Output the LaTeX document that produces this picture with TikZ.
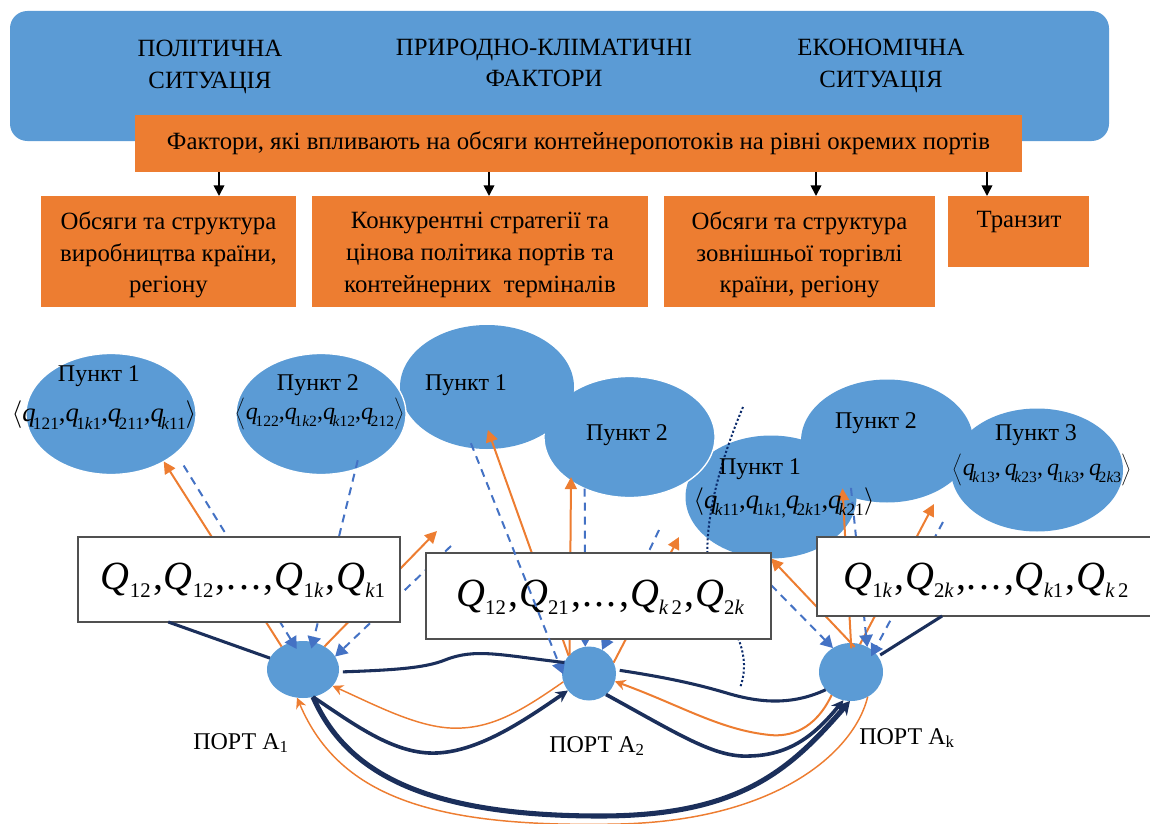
\documentclass[tikz,border=0pt]{standalone}
\usepackage{fontspec}
\setmainfont{Liberation Serif}
\usetikzlibrary{arrows.meta,shapes.geometric}
\definecolor{cblue}{HTML}{5B9BD5}
\definecolor{corange}{HTML}{ED7D31}
\definecolor{cdash}{HTML}{4472C4}
\definecolor{cdark}{HTML}{1B2F5B}
\definecolor{cdot}{HTML}{0A2A6B}
\definecolor{cedge}{HTML}{505050}
\newcommand\kk{{\itshape k}}
\newcommand\vq[1]{{\itshape q}\kern-.1em\raisebox{-.28em}{\scalebox{.65}{#1}}}
\newcommand\vQ[1]{{\itshape Q}\raisebox{-.2em}{\scalebox{.52}{#1}}}
\newcommand\cm{\kern.06em,\kern.02em}
\newcommand\dts{.\kern.06em.\kern.06em.}
\tikzset{
  x=0.75pt,y=-0.75pt,
  every node/.style={inner sep=0pt,outer sep=0pt,font=\fontsize{18.6}{23.7}\selectfont,text=black,align=center},
  block/.style n args={3}{rectangle,fill=#3,minimum width=#1*0.75pt,minimum height=#2*0.75pt},
  wbox/.style 2 args={rectangle,fill=white,draw=cedge,line width=1pt,minimum width=#1*0.75pt,minimum height=#2*0.75pt},
  bub/.style 2 args={ellipse,fill=cblue,draw=white,line width=1pt,minimum width=#1*0.75pt,minimum height=#2*0.75pt},
  bubplain/.style 2 args={ellipse,fill=cblue,minimum width=#1*0.75pt,minimum height=#2*0.75pt},
  oarr/.style={draw=corange,line width=1.5pt,-{Triangle[length=9pt,width=9pt,fill=corange]}},
  ocurve/.style={draw=corange,line width=1.1pt,-{Stealth[length=8pt,width=8pt,fill=corange]}},
  darr/.style={draw=cdash,line width=1.5pt,dash pattern=on 6pt off 4.5pt,-{Triangle[length=9pt,width=10pt,fill=cdash]}},
  navy/.style={draw=cdark,line width=2.3pt},
  navyhead/.style={draw=cdark,line width=2.7pt,-{Stealth[length=9pt,width=9pt,fill=cdark]}},
  navythick/.style={draw=cdark,line width=3.8pt,-{Stealth[length=10pt,width=11pt,fill=cdark]}},
  blk/.style={draw=black,line width=1.3pt,-{Triangle[length=8pt,width=8pt,fill=black]}},
  dotl/.style={draw=cdot,line width=1.5pt,dash pattern=on 1.6pt off 1.6pt},
  lbl/.style={text=black},
  pkt/.style={text=black,font=\fontsize{18}{22}\selectfont},
  formula/.style={text=black,font=\fontsize{20}{24}\selectfont},
  formulas/.style={text=black,font=\fontsize{18}{22}\selectfont},
  bigq/.style={text=black,font=\fontsize{30}{36}\selectfont},
}
\begin{document}
\begin{tikzpicture}
\path[use as bounding box] (0,0) rectangle (1150,824);
\clip (0,0) rectangle (1150,824);
% top
\node[rectangle,fill=cblue,rounded corners=13pt,minimum width=1099*0.75pt,minimum height=130*0.75pt] (top) at (559.5,76) {};
\node[lbl] (t1) at (210,67) {ПОЛІТИЧНА\\СИТУАЦІЯ};
\node[lbl] (t2) at (544,63) {ПРИРОДНО-КЛІМАТИЧНІ\\ФАКТОРИ};
\node[lbl] (t3) at (881,66) {ЕКОНОМІЧНА\\СИТУАЦІЯ};
\node[block={887}{57}{corange}] (fac) at (578.5,143.5) {\raisebox{2pt}{Фактори, які впливають на обсяги контейнеропотоків на рівні окремих портів}};
\node[block={255}{111}{corange}] (f1) at (168.5,251.5) {};
\node[block={336}{111}{corange}] (f2) at (480,251.5) {};
\node[block={271}{111}{corange}] (f3) at (799.5,251.5) {};
\node[block={141}{71}{corange}] (f4) at (1018.5,231.5) {};
\node[lbl] (f1t) at (168.5,255) {Обсяги та структура\\виробництва країни,\\регіону};
\node[lbl] (f2t) at (480,255) {Конкурентні стратегії та\\цінова політика портів та\\контейнерних\ \ терміналів};
\node[lbl] (f3t) at (799.5,255) {Обсяги та структура\\зовнішньої торгівлі\\країни, регіону};
\node[lbl] (f4t) at (1019,222) {Транзит};
\coordinate (a1) at (219,196);
\coordinate (a2) at (489,196);
\coordinate (a3) at (816,196);
\coordinate (a4) at (987,196);
\draw[blk] (fac.south -| a1) -- (a1 |- f1.north);
\draw[blk] (fac.south -| a2) -- (a2 |- f2.north);
\draw[blk] (fac.south -| a3) -- (a3 |- f3.north);
\draw[blk] (fac.south -| a4) -- (a4 |- f4.north);
% bubbles
\node[bub={170}{121}] (e1) at (111,414) {};
\node[bubplain={172}{123}] (e6) at (887,441) {};
\node[bubplain={171}{123}] (e5) at (771,497) {};
\node[bubplain={172}{123}] (e7) at (1037,470) {};
\node[bub={171}{121}] (e4) at (629.5,437) {};
\node[bubplain={174}{124}] (e3) at (487,387) {};
\node[bub={170}{121}] (e2) at (321,414) {};
% ports
\node[bubplain={72}{57}] (p1) at (303,669.5) {};
\node[bubplain={54}{54}] (p2) at (589,673.5) {};
\node[bubplain={64}{58}] (pk) at (851,672) {};
% free ends
\coordinate (f1o) at (437,531);
\coordinate (f1d) at (451,546);
\coordinate (f2d) at (659,530);
\coordinate (f2o) at (679,537);
\coordinate (f3o) at (934,504);
\coordinate (f3d) at (943,522);
\coordinate (f4d) at (771,585);
\coordinate (dotA) at (743,407);
\coordinate (dotB) at (740,688);
% dotted divider
\draw[dotl] (dotA) .. controls (712,480) and (695,560) .. (718,600) .. controls (735,630) and (752,655) .. (dotB);
% arrows from port A1
\draw[oarr] (p1.133) -- (e1.-42);
\draw[oarr] (p1.47) -- (f1o);
\draw[darr,shorten <=11pt,shorten >=-6pt] (e1.-31) -- (p1.111);
\draw[darr,shorten <=-7pt,shorten >=-5pt] (e2.-58) -- (p1.70);
\draw[darr] (f1d) -- (p1.22);
% arrows from port A2
\draw[oarr,shorten >=-15pt] (p2.139) -- (e3.-83.5);
\draw[oarr,shorten >=-3pt] (p2.136) -- (e4.-143.5);
\draw[oarr] (p2.24) -- (f2o);
\draw[darr] (e4.-131) -- (p2.98);
\draw[darr] (f2d) -- (p2.61);
% arrows from port Ak
\draw[oarr,shorten <=-4pt] (pk.90) -- (e5.-90);
\draw[oarr,shorten <=-4pt,shorten >=-4pt] (pk.90) -- (e6.-130);
\draw[oarr] (pk.72) -- (f3o);
\draw[darr,shorten <=-7pt] (e6.-122) -- (pk.57);
\draw[darr,shorten >=-4pt] (f3d) -- (pk.42);
\draw[darr] (f4d) -- (pk.127);
% boxes
\node[wbox={322}{85}] (b1) at (239,579.5) {};
\node[wbox={345}{86}] (b2) at (598.5,596) {};
\node[wbox={338}{79}] (b3) at (986,576.5) {};
\node[bigq] (b1t) at (243,580) {\vQ{12}\cm\vQ{12}\cm\dts\cm\vQ{1\kk}\cm\vQ{\kk1}};
\node[bigq] (b2t) at (600,597) {\vQ{12}\cm\vQ{21}\cm\dts\cm\vQ{\kk\,2}\cm\vQ{2\kk}};
\node[bigq] (b3t) at (986,580) {\vQ{1\kk}\cm\vQ{2\kk}\cm\dts\cm\vQ{\kk1}\cm\vQ{\kk\,2}};
% dashed arrow over box 2
\draw[darr,shorten <=-4pt,shorten >=-2pt] (e3.-103) -- (p2.176);
% navy connectors
\draw[navy] (b1.211) -- (p1.161);
\draw[navy,shorten >=2pt] (b3.222.6) -- (pk.30);
\draw[navy,shorten <=3pt] (p1.-4) .. controls (395,670) and (425,668) .. (445,660) .. controls (475,648) and (500,655) .. (p2.156);
\draw[navy,shorten <=3pt] (p2.8) .. controls (670,678) and (700,685) .. (730,694) .. controls (765,704) and (795,704) .. (pk.215);
\draw[ocurve] (p2.198) .. controls (520,712) and (490,730) .. (450,728) .. controls (415,726) and (375,705) .. (p1.-29);
\draw[navyhead] (p1.-70) .. controls (355,725) and (395,755) .. (437,753) .. controls (480,751) and (525,720) .. (p2.219);
\draw[ocurve,line width=1.5pt] (pk.-130) .. controls (815,730) and (790,737) .. (770,735) .. controls (720,730) and (680,705) .. (p2.-17);
\draw[navyhead] (p2.-51) .. controls (680,735) and (715,758) .. (750,756) .. controls (790,755) and (815,735) .. (pk.-105);
\draw[ocurve] (pk.-56) .. controls (855,750) and (780,820) .. (620,824) .. controls (440,828) and (340,800) .. (p1.-102);
\draw[navythick] (p1.-70) .. controls (345,770) and (420,816) .. (600,816) .. controls (740,816) and (790,770) .. (pk.-92);
% bubble labels
\node[pkt] (l1) at (99,376) {Пункт 1};
\node[pkt] (l2) at (318,385) {Пункт 2};
\node[pkt] (l3) at (466,385) {Пункт 1};
\node[pkt] (l4) at (627,435) {Пункт 2};
\node[pkt] (l5) at (760,469) {Пункт 1};
\node[pkt] (l6) at (876,423) {Пункт 2};
\node[pkt] (l7) at (1036,435) {Пункт 3};
\node[formula] (q1) at (104,415) {$\bigg\langle$\vq{121},\vq{1\kk1},\vq{211},\vq{\kk11}$\bigg\rangle$};
\node[formulas] (q2) at (320,414) {$\bigg\langle$\vq{122},\vq{1\kk2},\vq{\kk12},\vq{212}$\bigg\rangle$};
\node[formula] (q5) at (784,503) {$\bigg\langle$\vq{\kk11},\vq{1\kk1,}\vq{2\kk1},\vq{\kk21}$\bigg\rangle$};
\node[formulas] (q7) at (1042,470) {$\bigg\langle$\vq{\kk13},\,\vq{\kk23},\,\vq{1\kk3},\,\vq{2\kk3}$\bigg\rangle$};
% port labels
\node[pkt] (n1) at (241,743) {ПОРТ А\textsubscript{1}};
\node[pkt] (n2) at (597,746) {ПОРТ А\textsubscript{2}};
\node[pkt] (n3) at (907,738) {ПОРТ А\textsubscript{k}};
\end{tikzpicture}
\end{document}
